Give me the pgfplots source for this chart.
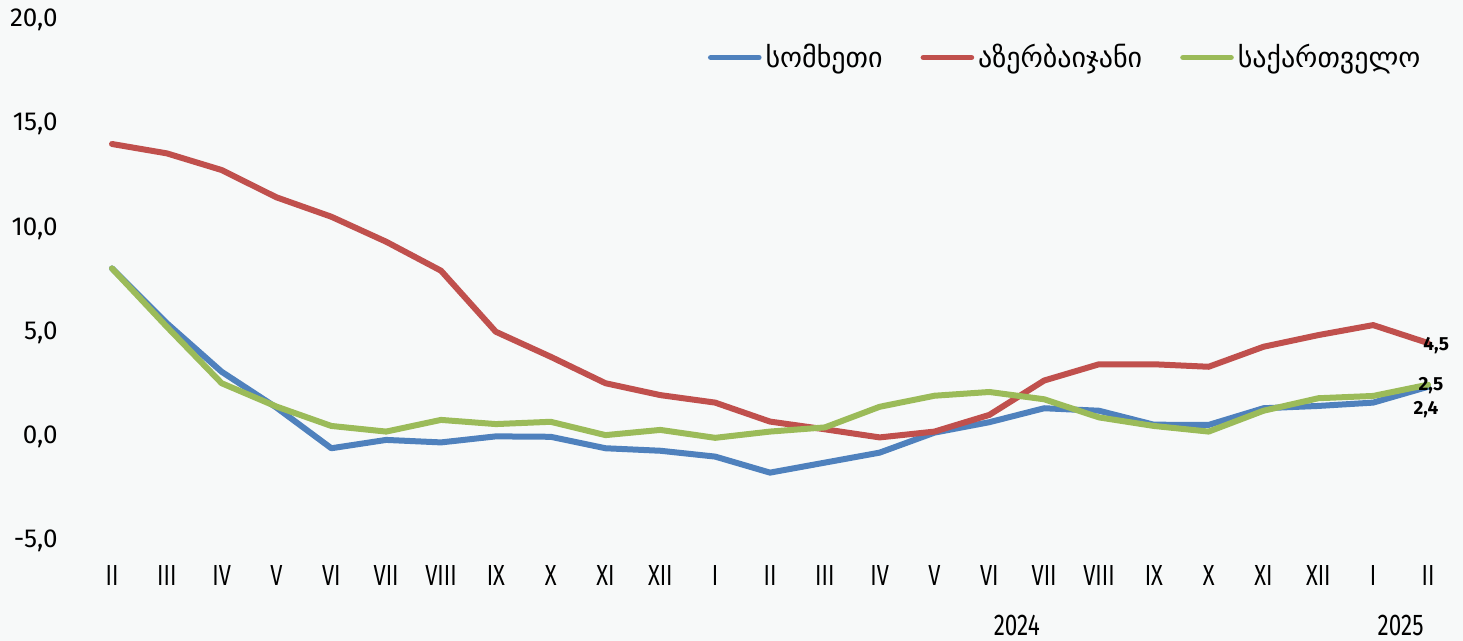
\documentclass[border=0pt]{standalone}
\usepackage{fontspec}
\setmainfont{Fira Sans}
\newfontfamily\geo{DejaVu Sans}
\newfontfamily\cond[FakeStretch=0.75]{Fira Sans}
\usepackage{pgfplots}
\pgfplotsset{compat=1.18}
\definecolor{bg}{RGB}{247,249,249}
\definecolor{arm}{RGB}{79,129,189}
\definecolor{aze}{RGB}{192,80,77}
\definecolor{geoc}{RGB}{155,187,89}
\pgfplotstableread{
x arm aze geo
0 8.08 14.05 8.08
1 5.45 13.60 5.28
2 3.12 12.80 2.57
3 1.40 11.49 1.45
4 -0.55 10.56 0.52
5 -0.15 9.36 0.25
6 -0.27 7.97 0.81
7 0.02 5.04 0.61
8 0.00 3.84 0.72
9 -0.55 2.57 0.08
10 -0.67 2.00 0.33
11 -0.95 1.64 -0.05
12 -1.72 0.73 0.25
13 -1.24 0.36 0.45
14 -0.76 -0.03 1.44
15 0.20 0.25 1.97
16 0.70 1.05 2.15
17 1.37 2.70 1.80
18 1.25 3.48 0.93
19 0.58 3.48 0.52
20 0.57 3.36 0.25
21 1.37 4.32 1.25
22 1.48 4.88 1.85
23 1.64 5.36 1.96
24 2.4 4.5 2.5
}\datatable
\begin{document}
\begin{tikzpicture}
\fill[bg] (0,0) rectangle (731.5pt,320.5pt);
\useasboundingbox (0,0) rectangle (731.5pt,320.5pt);
\begin{axis}[
  at={(56pt,50pt)}, anchor=south west,
  scale only axis, width=658pt, height=260.5pt,
  xmin=0, xmax=24, ymin=-5, ymax=20,
  clip=false,
  axis line style={draw=none},
  major tick length=0pt,
  xtick={0,...,24},
  xticklabels={II,III,IV,V,VI,VII,VIII,IX,X,XI,XII,I,II,III,IV,V,VI,VII,VIII,IX,X,XI,XII,I,II},
  xticklabel style={font=\cond\fontsize{14.5}{16}\selectfont, anchor=north, inner sep=0pt, yshift=-12pt},
  ytick={-5,0,5,10,15,20},
  yticklabels={{-5,0},{0,0},{5,0},{10,0},{15,0},{20,0}},
  yticklabel style={font=\fontsize{13}{15}\selectfont, anchor=east, inner sep=0pt, xshift=-27pt},
  legend columns=3,
  legend style={draw=none, fill=none, at={(axis cs:24.05,18.2)}, anchor=east,
    font=\geo\fontsize{14}{16}\selectfont,
    /tikz/every even column/.append style={column sep=17pt}},
  legend image code/.code={\draw[#1, line width=2.8pt, line cap=round] (0pt,0pt) -- (24pt,0pt);},
  every axis plot/.append style={line width=3pt, line join=round, line cap=round, no markers},
]
\addplot[arm] table[x=x,y=arm]{\datatable};
\addlegendentry{სომხეთი}
\addplot[aze] table[x=x,y=aze]{\datatable};
\addlegendentry{აზერბაიჯანი}
\addplot[geoc] table[x=x,y=geo]{\datatable};
\addlegendentry{საქართველო}
\node[font=\bfseries\fontsize{9.5}{11}\selectfont, anchor=west, inner sep=0pt] at (axis cs:23.91,4.36) {4,5};
\node[font=\bfseries\fontsize{9.5}{11}\selectfont, anchor=west, inner sep=0pt] at (axis cs:23.82,2.44) {2,5};
\node[font=\bfseries\fontsize{9.5}{11}\selectfont, anchor=west, inner sep=0pt] at (axis cs:23.73,1.29) {2,4};
\node[font=\cond\fontsize{15}{17}\selectfont, anchor=north, inner sep=0pt] at (axis cs:16.5,-5) [yshift=-37pt] {2024};
\node[font=\cond\fontsize{15}{17}\selectfont, anchor=north, inner sep=0pt] at (axis cs:23.5,-5) [yshift=-37pt] {2025};
\end{axis}
\end{tikzpicture}
\end{document}
